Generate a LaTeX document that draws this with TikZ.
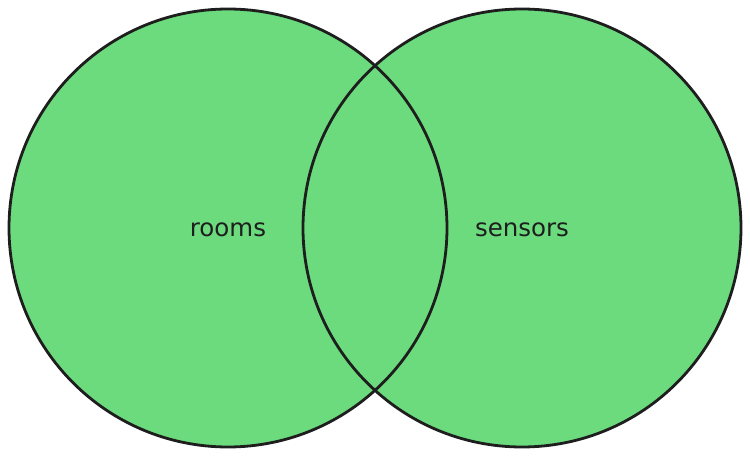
\documentclass[tikz,border=0pt]{standalone}
\usepackage{fontspec}
\setmainfont{DejaVu Sans}
\definecolor{vgreen}{HTML}{6BDB7D}
\definecolor{vstroke}{HTML}{1E1E1E}
\begin{document}
\begin{tikzpicture}[x=1pt,y=-1pt,
  setfill/.style={fill=vgreen,draw=none},
  setline/.style={draw=vstroke,line width=2.8pt},
  lbl/.style={text=vstroke,font=\fontsize{24.5}{29}\selectfont,inner sep=0pt}]
\useasboundingbox (0,0) rectangle (750,457);
\coordinate (cl) at (228,228);
\coordinate (cr) at (522,228);
\fill[vgreen] (cl) circle[radius=219];
\fill[vgreen] (cr) circle[radius=219];
\draw[setline] (cl) circle[radius=219];
\draw[setline] (cr) circle[radius=219];
\node[lbl] (rooms) at (228,230) {rooms};
\node[lbl] (sensors) at (522,230) {sensors};
\end{tikzpicture}
\end{document}
